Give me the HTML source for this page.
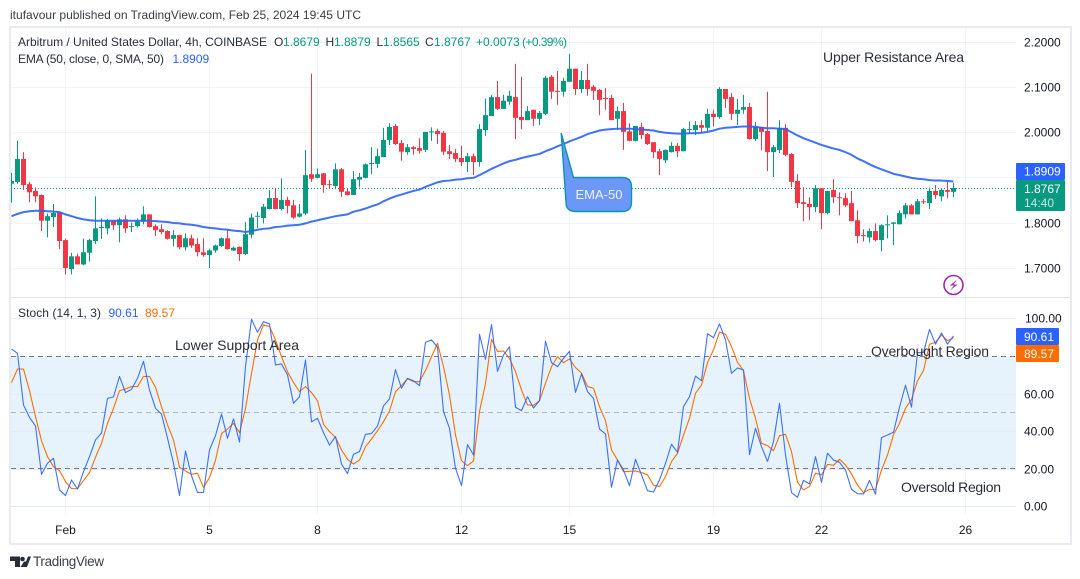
<!DOCTYPE html>
<html lang="en">
<head>
<meta charset="utf-8">
<title>ARB/USD chart</title>
<style>
html,body{margin:0;padding:0;background:#fff;width:1080px;height:579px;overflow:hidden}
svg{display:block;font-family:"Liberation Sans",sans-serif}
text{font-size:12px;fill:#131722}
</style>
</head>
<body>
<svg id="chart" width="1080" height="579" viewBox="0 0 1080 579" xmlns="http://www.w3.org/2000/svg">
  <rect x="0" y="0" width="1080" height="579" fill="#ffffff"/>
  <text x="10" y="19" fill="#333" style="font-size:12px;fill:#3a3d45" textLength="351" lengthAdjust="spacing">itufavour published on TradingView.com, Feb 25, 2024 19:45 UTC</text>
  <rect x="10" y="27" width="1061" height="517" fill="none" stroke="#e9ebf1" stroke-width="2"/>

  <g id="grid"></g>
  <rect x="11" y="356.6" width="1005" height="112.6" fill="#e6f3fd"/>
  <g id="gridOver"></g>
  <line x1="11" x2="1016" y1="356.5" y2="356.5" stroke="#787b86" stroke-dasharray="5 4"/>
  <line x1="11" x2="1016" y1="412.5" y2="412.5" stroke="#b0b3bc" stroke-dasharray="5 4"/>
  <line x1="11" x2="1016" y1="468.5" y2="468.5" stroke="#787b86" stroke-dasharray="5 4"/>
  <line x1="11" x2="1070" y1="297.5" y2="297.5" stroke="#e0e3eb" stroke-width="1"/>

  <line x1="11" x2="1016" y1="188.5" y2="188.5" stroke="#089981" stroke-dasharray="1 2"/>
  <g id="candles"></g>
  <path id="emaLine" fill="none" stroke="#2962ff" stroke-width="2" stroke-linejoin="round" stroke-opacity="0.9"/>
  <path id="dLine" fill="none" stroke="#ff6d00" stroke-width="1.1" stroke-linejoin="round"/>
  <path id="kLine" fill="none" stroke="#2962ff" stroke-width="1.1" stroke-linejoin="round" stroke-opacity="0.9"/>

  <g>
    <path d="M561.2 133 L573.5 177.5 H622 Q631.5 177.5 631.5 187 V202 Q631.5 211.5 622 211.5 H575.5 Q566 211.5 566 202 Z" fill="#6b97f7" stroke="#0b93b5" stroke-width="1.4"/>
    <text x="599" y="199" text-anchor="middle" style="font-size:13px;fill:#eef3ff">EMA-50</text>
  </g>

  <text x="18" y="46" textLength="249" lengthAdjust="spacing" style="fill:#2a2e39">Arbitrum / United States Dollar, 4h, COINBASE</text>
  <text x="274" y="46" style="fill:#2a2e39">O</text>
  <text x="283" y="46" style="fill:#089981">1.8679</text>
  <text x="325.5" y="46" style="fill:#2a2e39">H</text>
  <text x="334" y="46" style="fill:#089981">1.8879</text>
  <text x="376.5" y="46" style="fill:#2a2e39">L</text>
  <text x="383" y="46" style="fill:#089981">1.8565</text>
  <text x="425" y="46" style="fill:#2a2e39">C</text>
  <text x="434" y="46" style="fill:#089981">1.8767</text>
  <text x="476" y="46" style="fill:#089981">+0.0073</text>
  <text x="522" y="46" style="fill:#089981" textLength="45" lengthAdjust="spacing">(+0.39%)</text>
  <text x="18" y="63" textLength="146" lengthAdjust="spacing" style="fill:#2a2e39">EMA (50, close, 0, SMA, 50)</text>
  <text x="172.5" y="63" style="fill:#2962ff">1.8909</text>
  <text x="18" y="317" style="fill:#2a2e39" textLength="83" lengthAdjust="spacing">Stoch (14, 1, 3)</text>
  <text x="108.5" y="317" style="fill:#2962ff">90.61</text>
  <text x="145" y="317" style="fill:#ff6d00">89.57</text>

  <text x="823" y="62" style="font-size:14px;fill:#2a2e39" textLength="141" lengthAdjust="spacing">Upper Resistance Area</text>
  <text x="175" y="350" style="font-size:14px;fill:#2a2e39" textLength="124" lengthAdjust="spacing">Lower Support Area</text>
  <text x="871" y="356" style="font-size:14px;fill:#2a2e39" textLength="118" lengthAdjust="spacing">Overbought Region</text>
  <text x="901" y="492" style="font-size:14px;fill:#2a2e39" textLength="100" lengthAdjust="spacing">Oversold Region</text>

  <g id="priceAxis"></g>
  <g id="stochAxis"></g>
  <g id="timeAxis"></g>

  <rect x="1016" y="163" width="49" height="17" rx="1" fill="#2962ff"/>
  <text x="1024" y="175.5" style="fill:#fff">1.8909</text>
  <rect x="1016" y="180" width="49" height="31" rx="1" fill="#089981"/>
  <text x="1024" y="193" style="fill:#fff">1.8767</text>
  <text x="1024" y="207" style="fill:#c6e8e0">14:40</text>
  <rect x="1016" y="328" width="43" height="17" rx="1" fill="#2962ff"/>
  <text x="1024" y="341" style="fill:#fff">90.61</text>
  <rect x="1016" y="345" width="43" height="17" rx="1" fill="#ff6d00"/>
  <text x="1024" y="358" style="fill:#fff">89.57</text>

  <g>
    <circle cx="953.5" cy="285" r="9.5" fill="none" stroke="#9c27b0" stroke-width="1.6"/>
    <path d="M957 279.5 L950 285.5 H954 L950 290.5 L957.5 284.5 H953.5 Z" fill="#9c27b0"/>
  </g>

  <g>
    <path d="M10 556.5 H20 V567 H15 V561 H10 Z" fill="#2a2e39"/>
    <circle cx="22.5" cy="559" r="2.3" fill="#2a2e39"/>
    <path d="M24 567 L28 556.5 H31 L27 567 Z" fill="#2a2e39"/>
    <path d="M20.5 567 L24 561.5 H26.5 L24.5 567 Z" fill="#2a2e39"/>
    <text x="33" y="566" style="font-size:13.5px;fill:#3a3d45" textLength="71" lengthAdjust="spacing">TradingView</text>
  </g>
</svg>

<script>
const priceTicks = [2.2, 2.1, 2.0, 1.9, 1.8, 1.7];
const priceTickLabels = ["2.2000", "2.1000", "2.0000", "", "1.8000", "1.7000"];
const stochTicks = [100, 60, 40, 20, 0];
const stochTickLabels = ["100.00", "60.00", "40.00", "20.00", "0.00"];
const dayTickBars = [9, 33, 51, 75, 93, 117, 135, 159];
const dayTickLabels = ["Feb", "5", "8", "12", "15", "19", "22", "26"];

const opens = [
1.886,1.890,1.941,1.885,1.870,1.861,1.804,1.812,1.823,1.761,
1.697,1.725,1.707,1.733,1.759,1.788,1.787,1.803,1.794,1.807,
1.790,1.792,1.802,1.818,1.792,1.785,1.781,1.764,1.772,1.745,
1.765,1.752,1.734,1.728,1.738,1.748,1.765,1.738,1.746,1.730,
1.773,1.813,1.810,1.830,1.854,1.830,1.850,1.838,1.813,1.820,
1.907,1.899,1.909,1.885,1.881,1.918,1.869,1.861,1.895,1.899,
1.930,1.930,1.945,1.983,2.014,1.976,1.956,1.967,1.965,1.961,
2.001,2.003,1.999,1.958,1.954,1.943,1.934,1.947,1.934,2.005,
2.036,2.078,2.052,2.068,2.078,2.034,2.027,2.050,2.030,2.041,
2.123,2.092,2.090,2.112,2.141,2.096,2.116,2.101,2.094,2.076,
2.076,2.030,2.047,2.002,1.981,2.012,1.996,1.978,1.958,1.938,
1.956,1.970,1.958,2.005,2.005,2.016,2.010,2.041,2.034,2.096,
2.078,2.041,2.050,2.056,1.985,2.012,2.003,1.956,1.961,2.010,
1.952,1.892,1.845,1.841,1.834,1.876,1.821,1.872,1.856,1.854,
1.843,1.805,1.772,1.767,1.781,1.761,1.794,1.797,1.796,1.818,
1.838,1.818,1.847,1.843,1.870,1.858,1.872,1.8679];

const closes = [
1.892,1.941,1.883,1.867,1.858,1.804,1.814,1.821,1.759,1.699,
1.725,1.707,1.734,1.761,1.787,1.790,1.803,1.794,1.807,1.787,
1.792,1.802,1.818,1.790,1.783,1.779,1.764,1.772,1.745,1.765,
1.749,1.734,1.728,1.738,1.749,1.765,1.741,1.744,1.730,1.774,
1.811,1.815,1.835,1.854,1.830,1.850,1.837,1.811,1.820,1.905,
1.897,1.907,1.883,1.883,1.918,1.868,1.861,1.896,1.901,1.929,
1.932,1.947,1.983,2.012,1.974,1.957,1.967,1.963,1.959,2.001,
2.002,1.996,1.957,1.952,1.941,1.934,1.947,1.934,2.007,2.038,
2.078,2.052,2.070,2.081,2.032,2.027,2.047,2.030,2.043,2.121,
2.090,2.090,2.114,2.141,2.096,2.116,2.096,2.092,2.072,2.074,
2.027,2.047,2.001,1.981,2.014,1.994,1.974,1.956,1.941,1.961,
1.970,1.958,2.007,2.007,2.016,2.010,2.041,2.034,2.096,2.074,
2.041,2.050,2.056,1.985,2.012,2.001,1.956,1.967,2.010,1.950,
1.890,1.843,1.841,1.834,1.876,1.821,1.870,1.856,1.854,1.838,
1.803,1.770,1.770,1.781,1.761,1.794,1.796,1.800,1.821,1.838,
1.818,1.847,1.845,1.870,1.861,1.872,1.868,1.8767];

const highs = [
1.910,1.981,1.956,1.890,1.878,1.862,1.820,1.841,1.824,1.764,
1.733,1.731,1.764,1.764,1.858,1.809,1.808,1.805,1.811,1.816,
1.800,1.809,1.836,1.818,1.796,1.796,1.783,1.783,1.773,1.776,
1.773,1.765,1.765,1.742,1.751,1.767,1.784,1.747,1.747,1.801,
1.820,1.824,1.841,1.872,1.875,1.898,1.857,1.850,1.841,1.961,
2.130,1.920,1.910,1.894,1.931,1.921,1.875,1.914,1.910,1.931,
1.967,1.964,2.010,2.020,2.018,1.983,1.974,1.970,1.987,2.001,
2.011,2.008,2.003,1.972,1.963,1.970,1.954,1.953,2.018,2.075,
2.083,2.114,2.083,2.092,2.152,2.123,2.058,2.050,2.047,2.125,
2.127,2.136,2.121,2.174,2.141,2.136,2.152,2.105,2.096,2.098,
2.083,2.057,2.065,2.020,2.014,2.021,1.998,1.978,1.963,1.962,
1.978,1.976,2.010,2.024,2.025,2.027,2.052,2.050,2.100,2.096,
2.087,2.074,2.083,2.065,2.023,2.012,2.090,1.972,2.027,2.018,
1.954,1.907,1.878,1.856,1.883,1.876,1.870,1.896,1.867,1.865,
1.870,1.827,1.785,1.787,1.798,1.796,1.816,1.801,1.827,1.843,
1.841,1.852,1.852,1.878,1.883,1.876,1.890,1.8879];

const lows = [
1.844,1.886,1.872,1.845,1.845,1.781,1.767,1.790,1.741,1.685,
1.685,1.707,1.705,1.713,1.752,1.764,1.774,1.783,1.756,1.777,
1.779,1.789,1.796,1.789,1.770,1.774,1.762,1.747,1.741,1.738,
1.744,1.725,1.724,1.699,1.733,1.746,1.740,1.737,1.715,1.728,
1.765,1.788,1.798,1.829,1.829,1.827,1.820,1.808,1.811,1.817,
1.890,1.898,1.866,1.875,1.874,1.857,1.860,1.861,1.878,1.898,
1.907,1.921,1.945,1.972,1.972,1.937,1.950,1.950,1.953,1.956,
1.981,1.974,1.950,1.941,1.934,1.925,1.912,1.905,1.924,1.992,
2.036,2.050,2.052,2.061,1.985,2.007,2.027,2.014,2.016,2.038,
2.074,2.061,2.079,2.112,2.083,2.087,2.081,2.072,2.038,2.050,
2.027,2.005,1.961,1.980,1.980,1.985,1.972,1.943,1.905,1.932,
1.955,1.945,1.958,1.996,1.994,1.999,2.003,2.013,2.030,2.054,
2.027,2.016,2.041,1.984,1.981,1.961,1.914,1.901,1.954,1.947,
1.878,1.832,1.803,1.805,1.823,1.785,1.818,1.843,1.816,1.834,
1.803,1.754,1.758,1.756,1.758,1.736,1.765,1.750,1.796,1.809,
1.818,1.818,1.841,1.830,1.852,1.847,1.854,1.8565];

const emaValues = [
1.814,1.819,1.823,1.825,1.826,1.826,1.825,1.824,1.823,1.818,
1.814,1.810,1.807,1.805,1.804,1.804,1.804,1.804,1.804,1.804,
1.804,1.804,1.804,1.804,1.803,1.802,1.801,1.799,1.798,1.796,
1.795,1.793,1.790,1.788,1.787,1.785,1.784,1.782,1.781,1.779,
1.781,1.784,1.786,1.787,1.790,1.791,1.793,1.794,1.795,1.798,
1.802,1.805,1.808,1.811,1.814,1.816,1.818,1.824,1.827,1.831,
1.836,1.840,1.847,1.853,1.858,1.862,1.866,1.870,1.873,1.879,
1.884,1.889,1.892,1.893,1.895,1.896,1.898,1.899,1.905,1.912,
1.919,1.925,1.931,1.936,1.939,1.943,1.946,1.949,1.952,1.958,
1.963,1.969,1.974,1.980,1.985,1.990,1.996,2.000,2.004,2.006,
2.007,2.008,2.008,2.008,2.007,2.006,2.005,2.004,2.001,1.999,
1.998,1.997,1.997,1.998,1.998,1.999,2.001,2.004,2.008,2.010,
2.011,2.012,2.013,2.013,2.012,2.010,2.009,2.009,2.008,2.007,
2.000,1.993,1.987,1.982,1.977,1.972,1.968,1.964,1.961,1.956,
1.950,1.942,1.936,1.929,1.923,1.918,1.913,1.908,1.905,1.902,
1.899,1.897,1.896,1.894,1.893,1.893,1.892,1.8909];

const stochK = [
83.7,81.4,53.9,47.3,42.7,17.0,22.9,25.5,8.7,5.7,
14.0,9.2,18.4,26.4,35.3,39.0,57.4,58.2,69.1,60.5,
62.2,68.1,77.1,61.9,52.1,49.1,36.2,22.9,5.7,29.4,
16.3,7.4,7.4,30.0,37.6,49.1,36.2,46.5,34.2,74.3,
99.5,92.6,98.2,97.0,75.2,75.7,69.9,54.8,58.3,77.8,
44.9,46.8,39.2,32.6,37.1,22.5,17.4,27.7,29.1,38.3,
38.7,42.7,53.4,57.1,72.7,62.8,68.1,66.7,64.2,87.2,
88.5,84.6,50.4,41.5,20.2,11.0,32.8,27.3,91.5,78.2,
96.6,71.8,80.5,84.8,52.7,50.9,58.3,52.3,56.2,87.8,
76.4,74.3,78.7,82.4,60.6,70.4,61.0,57.4,41.1,38.5,
10.1,24.6,19.3,11.0,25.0,16.7,8.3,7.6,14.0,22.9,
33.0,28.7,53.0,58.3,69.3,66.8,91.8,89.7,97.0,88.5,
70.7,73.6,72.5,27.5,41.5,31.7,23.9,34.4,54.8,27.3,
7.3,4.8,13.8,11.9,26.4,12.8,28.2,24.6,23.4,19.3,
9.0,6.7,6.6,13.8,6.4,36.5,37.9,39.4,52.7,64.4,
52.7,81.7,81.9,94.1,86.3,92.2,86.3,90.61];

const stochD = [
65.8,73.0,73.0,61.5,47.7,34.9,26.4,21.1,19.0,13.1,
9.4,9.4,13.7,17.9,26.1,33.5,44.1,52.1,61.5,62.4,
63.7,63.7,69.1,69.1,63.3,53.0,43.3,35.3,20.7,18.8,
17.0,17.6,10.1,15.2,24.6,38.7,41.1,44.1,39.2,52.1,
70.7,88.5,96.5,95.6,88.5,79.6,71.6,65.8,61.0,63.7,
60.5,56.2,43.6,39.7,36.7,30.0,25.0,22.5,24.6,31.7,
35.8,40.2,45.0,50.7,61.0,64.2,67.9,66.3,66.3,72.2,
79.6,86.7,74.3,59.2,37.9,24.3,21.6,24.1,50.4,65.4,
88.8,82.4,82.6,78.7,71.6,61.9,53.9,53.7,56.2,65.4,
74.3,79.6,76.4,78.4,73.8,70.9,63.7,62.8,53.0,45.6,
30.0,24.6,18.4,18.6,18.8,17.9,16.8,11.2,10.5,15.8,
23.8,28.2,37.9,46.8,60.1,64.5,76.4,83.2,92.7,91.5,
84.9,76.6,72.2,57.4,46.8,33.5,32.3,29.6,37.6,38.3,
29.1,12.8,8.7,10.5,17.6,16.7,22.3,21.8,25.0,22.0,
17.2,11.3,7.3,9.0,9.0,19.3,27.3,38.1,44.1,52.1,
56.9,66.7,72.2,86.2,87.2,91.1,88.1,89.57];

const NS = 'http://www.w3.org/2000/svg';
const xBar = i => 11.5 + 6 * i;
const yPrice = p => 132.3 + (2 - p) * 451;
const yStoch = v => 506.3 - 1.88 * v;
const PLOT_LEFT = 11, PLOT_RIGHT = 1016;

function make(tag, attrs, parent) {
  const el = document.createElementNS(NS, tag);
  for (const k in attrs) el.setAttribute(k, attrs[k]);
  parent.appendChild(el);
  return el;
}

const grid = document.getElementById('grid');
const gridOver = document.getElementById('gridOver');
const priceAxis = document.getElementById('priceAxis');
const stochAxis = document.getElementById('stochAxis');
const timeAxis = document.getElementById('timeAxis');
const candles = document.getElementById('candles');

dayTickBars.forEach((b, i) => {
  const x = xBar(b);
  const line = make('line', {x1: x, x2: x, y1: 28, y2: 514, stroke: '#f0f3fa'}, grid);
  
  
  const t = make('text', {x: x, y: 534, 'text-anchor': 'middle'}, timeAxis);
  
  
  t.textContent = dayTickLabels[i];
});

priceTicks.forEach((p, i) => {
  const y = Math.round(yPrice(p)) + 0.5;
  const line = make('line', {x1: PLOT_LEFT, x2: PLOT_RIGHT, y1: y, y2: y, stroke: '#f0f3fa'}, grid);
  
  
  if (priceTickLabels[i]) {
    const t = make('text', {x: 1024, y: y + 4}, priceAxis);
    
    
    t.textContent = priceTickLabels[i];
  }
});

stochTicks.forEach((v, i) => {
  const y = Math.round(yStoch(v)) + 0.5;
  const line = make('line', {x1: PLOT_LEFT, x2: PLOT_RIGHT, y1: y, y2: y, stroke: '#e6ebf4'}, gridOver);
  
  
  const t = make('text', {x: v === 100 ? 1025 : 1024, y: y + 4}, stochAxis);
  
  
  t.textContent = stochTickLabels[i];
});

opens.forEach((o, i) => {
  const c = closes[i];
  const colour = c >= o ? '#089981' : '#f23645';
  const x = xBar(i);
  const top = yPrice(Math.max(o, c));
  const bot = yPrice(Math.min(o, c));
  const bodyLeft = Math.max(PLOT_LEFT, x - 2.5);
  const wick = make('rect', {x: x - 0.5, y: yPrice(highs[i]), width: 1, height: yPrice(lows[i]) - yPrice(highs[i]), fill: colour}, candles);
  
  
  const body = make('rect', {x: bodyLeft, y: top, width: x + 2.5 - bodyLeft, height: Math.max(1, bot - top), fill: colour}, candles);
  
  
});

const toPath = (vals, yFn) => vals.map((v, i) => (i ? 'L' : 'M') + xBar(i).toFixed(1) + ' ' + yFn(v).toFixed(2)).join(' ');
document.getElementById('emaLine').setAttribute('d', toPath(emaValues, yPrice));
document.getElementById('kLine').setAttribute('d', toPath(stochK, yStoch));
document.getElementById('dLine').setAttribute('d', toPath(stochD, yStoch));
</script>
</body>
</html>
